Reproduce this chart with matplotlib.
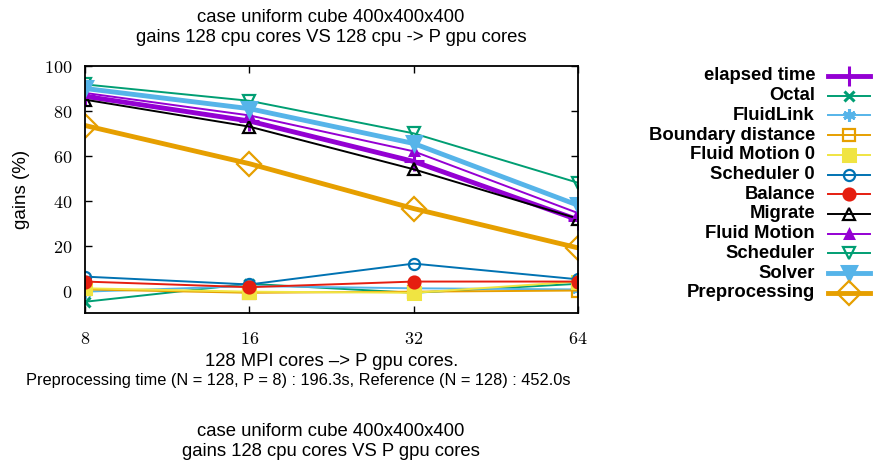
import matplotlib
matplotlib.use("Agg")
import matplotlib.pyplot as plt
from matplotlib.lines import Line2D

plt.rcParams["mathtext.fontset"] = "cm"

# P gpu cores
gpus = [8, 16, 32, 64]

elapsed_time = [86.5, 75.5, 57.5, 31.5]
octal = [-5.0, 3.0, -1.0, 3.0]
fluidlink = [-0.5, 2.0, 1.0, 0.5]
boundary_distance = [0.5, -1.0, -0.5, 0.0]
fluid_motion_0 = [1.0, -0.5, -1.0, 4.0]
scheduler_0 = [6.2, 2.7, 12.0, 5.0]
balance = [4.0, 1.5, 4.0, 4.0]
migrate = [85.0, 73.0, 54.0, 32.0]
fluid_motion = [88.0, 78.0, 62.0, 34.5]
scheduler = [91.8, 84.5, 70.0, 48.0]
solver = [90.0, 81.0, 65.5, 38.0]
preprocessing = [73.5, 56.5, 36.5, 19.0]

# label, data, color, marker, filled, linewidth, markersize
series = [
    ("elapsed time", elapsed_time, "#9400D3", "+", True, 3.5, 14),
    ("Octal", octal, "#009E73", "x", True, 1.4, 7),
    ("FluidLink", fluidlink, "#56B4E9", (6, 2, 0), True, 1.4, 9),
    ("Boundary distance", boundary_distance, "#E69F00", "s", False, 1.4, 8),
    ("Fluid Motion 0", fluid_motion_0, "#F0E442", "s", True, 1.4, 8),
    ("Scheduler 0", scheduler_0, "#0072B2", "o", False, 1.4, 8),
    ("Balance", balance, "#E51E10", "o", True, 1.4, 8),
    ("Migrate", migrate, "black", "^", False, 1.4, 8),
    ("Fluid Motion", fluid_motion, "#9400D3", "^", True, 1.4, 6),
    ("Scheduler", scheduler, "#009E73", "v", False, 1.4, 8),
    ("Solver", solver, "#56B4E9", "v", True, 3.5, 10),
    ("Preprocessing", preprocessing, "#E69F00", "D", False, 3.5, 12),
]

W, H = 877, 463
fig = plt.figure(figsize=(W / 100, H / 100), dpi=100)
ax = fig.add_axes([85 / W, 1 - 313 / H, (578 - 85) / W, (313 - 66) / H])

for label, vals, col, mk, filled, lw, ms in series:
    ax.plot(gpus, vals, color=col, lw=lw, marker=mk, ms=ms,
            mfc=col if filled else "none", mec=col, mew=1.6 if not filled else 2.2)

ax.set_xscale("log", base=2)
ax.set_xlim(8, 64)
ax.set_ylim(-10, 100)
yt = [0, 20, 40, 60, 80, 100]
ax.set_xticks(gpus)
ax.set_xticklabels([f"${g}$" for g in gpus])
ax.set_yticks(yt)
ax.set_yticklabels([f"${v}$" for v in yt])
ax.minorticks_off()
ax.tick_params(direction="in", top=True, right=True, length=5, width=1,
               labelsize=13)
ax.tick_params(axis="x", pad=12)
ax.tick_params(axis="y", pad=9)
for s in ax.spines.values():
    s.set_linewidth(1.3)

ax.set_ylabel("gains (%)", fontsize=13.5, family="Liberation Sans", labelpad=10)

sans = dict(family="Liberation Sans", ha="center", va="center")
fig.text(331 / W, 1 - 17 / H, "case uniform cube 400x400x400", fontsize=13.3, **sans)
fig.text(331 / W, 1 - 37 / H, "gains 128 cpu cores VS 128 cpu -> P gpu cores",
         fontsize=13.3, **sans)
fig.text(332 / W, 1 - 362 / H, "128 MPI cores \u2013> P gpu cores.", fontsize=13.3, **sans)
fig.text(298 / W, 1 - 381 / H,
         "Preprocessing time (N = 128, P = 8) : 196.3s, Reference (N = 128) : 452.0s",
         fontsize=11.8, **sans)
fig.text(331 / W, 1 - 432 / H, "case uniform cube 400x400x400", fontsize=13.3, **sans)
fig.text(331 / W, 1 - 451 / H, "gains 128 cpu cores VS P gpu cores", fontsize=13.3, **sans)

# legend, gnuplot style: text right-aligned, sample on the right
for i, (label, vals, col, mk, filled, lw, ms) in enumerate(series):
    y = 1 - (76 + i * 19.7) / H
    fig.text(815 / W, y, label, ha="right", va="center", fontsize=13.3,
             fontweight="bold", family="Liberation Sans")
    fig.add_artist(Line2D([828 / W, 870 / W], [y, y], color=col, lw=lw))
    fig.add_artist(Line2D([849 / W], [y], color=col, marker=mk, ms=ms, lw=0,
                          mfc=col if filled else "none", mec=col,
                          mew=1.6 if not filled else 2.2))

fig.savefig("out.png", dpi=100)
